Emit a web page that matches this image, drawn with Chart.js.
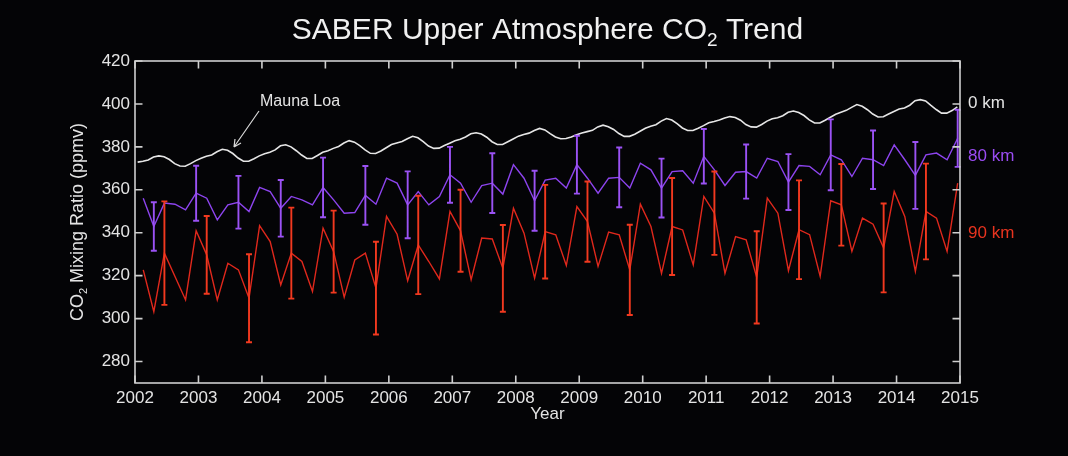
<!DOCTYPE html>
<html>
<head>
<meta charset="utf-8">
<title>SABER Upper Atmosphere CO2 Trend</title>
<script src="https://cdn.jsdelivr.net/npm/chart.js@4.4.1/dist/chart.umd.min.js"></script>
<style>
    html, body { margin: 0; padding: 0; background: #040406; }
    #wrap { width: 1068px; height: 456px; }
</style>
</head>
<body>
<div id="wrap"><canvas id="co2Chart" width="1068" height="456"></canvas></div>
<script>
(function () {
    'use strict';

    // ── Axis ticks ──────────────────────────────────────────
    const yearTicks = [2002, 2003, 2004, 2005, 2006, 2007, 2008, 2009, 2010, 2011, 2012, 2013, 2014, 2015];
    const ppmTicks  = [280, 300, 320, 340, 360, 380, 400, 420];

    // ── Mauna Loa monthly means (0 km), Jan..Dec per year ───
    const mloYears = [2002, 2003, 2004, 2005, 2006, 2007, 2008, 2009, 2010, 2011, 2012, 2013, 2014];
    const mloPpm = [
        372.9, 373.3, 373.9, 375.3, 375.8, 375.4, 374.1, 372.2, 371.1, 371.0, 372.2, 373.6,
        374.7, 375.6, 376.2, 377.7, 378.9, 378.4, 376.9, 374.8, 373.3, 373.3, 374.5, 375.8,
        376.8, 377.5, 378.6, 380.5, 381.0, 380.0, 378.2, 376.2, 374.6, 374.6, 376.0, 377.5,
        378.2, 379.3, 380.2, 381.8, 382.9, 382.2, 380.6, 378.6, 377.0, 376.9, 378.1, 379.6,
        381.1, 381.8, 382.5, 383.8, 384.9, 384.2, 382.4, 380.4, 379.3, 379.4, 380.6, 381.7,
        382.8, 383.6, 384.6, 386.1, 386.6, 386.0, 384.5, 382.4, 381.1, 381.1, 382.4, 383.7,
        385.0, 385.8, 386.4, 387.6, 388.6, 387.9, 386.2, 384.6, 383.8, 383.9, 384.6, 385.6,
        386.5, 387.1, 387.7, 389.3, 390.1, 389.4, 388.1, 386.2, 384.9, 384.9, 385.9, 387.3,
        388.7, 389.6, 390.3, 392.0, 393.2, 392.5, 390.8, 388.8, 387.6, 387.6, 388.7, 389.9,
        391.2, 391.8, 392.5, 393.4, 394.1, 393.7, 392.4, 390.4, 389.3, 389.2, 390.4, 392.0,
        393.1, 393.6, 394.5, 396.1, 396.7, 396.0, 394.6, 392.6, 391.1, 391.1, 392.4, 393.8,
        395.2, 396.1, 397.0, 398.4, 399.7, 398.9, 397.3, 395.3, 393.9, 394.0, 395.3, 396.5,
        397.6, 398.1, 399.4, 401.5, 402.0, 401.4, 399.3, 397.4, 395.7, 395.7, 396.9, 398.6
    ];

    // ── SABER 60-day samples (80 km and 90 km) ──────────────
    const satStart = 2002.13;   // first sample, decimal year
    const satStep  = 1 / 6;     // one sample every two months

    const ppm80 = [
        356.1, 342.9, 353.8, 353.3, 350.7, 358.4, 356.1, 346.0, 353.0, 354.2,
        349.9, 361.1, 359.2, 351.4, 356.9, 355.3, 353.0, 361.1, 355.3, 349.1,
        349.4, 357.4, 353.3, 365.4, 363.1, 353.0, 359.2, 353.0, 356.9, 367.0,
        363.1, 354.2, 362.0, 363.1, 358.0, 371.7, 365.4, 354.9, 364.5, 365.4,
        360.8, 371.7, 365.4, 358.4, 365.4, 365.8, 360.8, 372.4, 369.3, 360.8,
        368.5, 368.9, 363.1, 375.6, 369.3, 362.0, 368.2, 368.5, 365.5, 374.7,
        373.2, 363.6, 371.3, 370.9, 367.0, 376.3, 374.0, 366.2, 374.7, 374.0,
        371.3, 380.9, 374.0, 366.7, 376.3, 377.1, 374.0, 384.0
    ];
    const ppm90 = [
        322.7, 303.2, 330.5, 319.6, 308.7, 340.9, 329.7, 308.7, 325.8, 322.7,
        309.5, 343.3, 335.9, 315.7, 330.5, 326.6, 312.6, 342.1, 331.2, 310.0,
        327.3, 330.5, 314.2, 347.6, 339.3, 317.6, 334.3, 326.6, 318.5, 349.9,
        340.9, 318.1, 337.5, 337.1, 323.4, 351.4, 339.8, 318.8, 340.5, 339.0,
        324.7, 352.2, 345.2, 324.3, 340.3, 339.0, 322.7, 353.3, 342.9, 321.1,
        342.9, 341.3, 325.0, 356.9, 349.1, 321.1, 338.2, 336.7, 319.2, 356.1,
        349.1, 322.3, 341.4, 339.1, 319.7, 354.9, 353.0, 331.3, 346.8, 344.0,
        332.9, 359.2, 347.6, 322.0, 349.9, 346.8, 331.3, 363.1
    ];

    // Error bar half-widths, one bar every 4th sample
    const barEvery  = 4;
    const err80First = 1;
    const err80 = [11.3, 12.8, 12.3, 13.2, 13.9, 13.7, 15.6, 13.0, 13.9, 14.0,
                   13.5, 13.9, 13.7, 12.7, 12.6, 13.0, 16.5, 13.6, 15.6, 13.3];
    const err90First = 2;
    const err90 = [24.1, 18.1, 20.5, 21.2, 19.1, 21.6, 22.9, 19.1, 20.2, 21.8,
                   18.7, 21.0, 22.6, 19.4, 21.5, 23.0, 19.0, 20.7, 22.3];

    // ── Colours / fonts ─────────────────────────────────────
    const FONT     = "'Liberation Sans', Arial, Helvetica, sans-serif";
    const C_TEXT   = '#e4e4e4';
    const C_AXIS   = '#cfcfcf';
    const C_MLO    = '#e6e6e6';
    const C_80     = '#8d44ee';
    const C_80_BAR = '#9b52f4';
    const C_90     = '#e0281c';
    const C_90_BAR = '#f2391f';

    // ── Build point lists ───────────────────────────────────
    const satTime = i => satStart + i * satStep;

    const mloPoints = [];
    mloYears.forEach((yr, k) => {
        for (let m = 0; m < 12; m++) {
            mloPoints.push({ x: yr + (m + 0.5) / 12, y: mloPpm[k * 12 + m] });
        }
    });
    const pts80 = ppm80.map((v, i) => ({ x: satTime(i), y: v }));
    const pts90 = ppm90.map((v, i) => ({ x: satTime(i), y: v }));

    const barSets = [
        { vals: ppm80, err: err80, first: err80First, color: C_80_BAR },
        { vals: ppm90, err: err90, first: err90First, color: C_90_BAR }
    ];

    // ── Text helper: runs of [text, isSubscript] ────────────
    function drawRuns(ctx, runs, x, y, size, align) {
        const subSize = Math.round(size * 0.62);
        const widths = runs.map(r => {
            ctx.font = (r[1] ? subSize : size) + 'px ' + FONT;
            return ctx.measureText(r[0]).width;
        });
        const total = widths.reduce((a, b) => a + b, 0);
        let cx = align === 'center' ? x - total / 2 : (align === 'right' ? x - total : x);
        ctx.textAlign = 'left';
        ctx.textBaseline = 'alphabetic';
        runs.forEach((r, k) => {
            ctx.font = (r[1] ? subSize : size) + 'px ' + FONT;
            ctx.fillText(r[0], cx, r[1] ? y + size * 0.22 : y);
            cx += widths[k];
        });
    }

    // ── Plugin: frame + inward ticks ────────────────────────
    const frame = {
        id: 'frame',
        afterDraw(chart) {
            const { ctx, chartArea: a, scales: { x, y } } = chart;
            const tl = 7.5;
            ctx.save();
            ctx.strokeStyle = C_AXIS;
            ctx.lineWidth = 1.6;
            ctx.strokeRect(a.left, a.top, a.right - a.left, a.bottom - a.top);
            ctx.beginPath();
            yearTicks.forEach(v => {
                const px = x.getPixelForValue(v);
                ctx.moveTo(px, a.bottom); ctx.lineTo(px, a.bottom - tl);
                ctx.moveTo(px, a.top);    ctx.lineTo(px, a.top + tl);
            });
            ppmTicks.forEach(v => {
                const py = y.getPixelForValue(v);
                ctx.moveTo(a.left, py);  ctx.lineTo(a.left + tl, py);
                ctx.moveTo(a.right, py); ctx.lineTo(a.right - tl, py);
            });
            ctx.stroke();
            ctx.restore();
        }
    };

    // ── Plugin: error bars ──────────────────────────────────
    const errorBars = {
        id: 'errorBars',
        afterDatasetsDraw(chart) {
            const { ctx, scales: { x, y } } = chart;
            const cap = 3;
            ctx.save();
            ctx.lineWidth = 1.9;
            barSets.forEach(b => {
                ctx.strokeStyle = b.color;
                ctx.beginPath();
                b.err.forEach((e, k) => {
                    const i   = b.first + k * barEvery;
                    const px  = x.getPixelForValue(satTime(i));
                    const top = y.getPixelForValue(b.vals[i] + e);
                    const bot = y.getPixelForValue(b.vals[i] - e);
                    ctx.moveTo(px, top); ctx.lineTo(px, bot);
                    ctx.moveTo(px - cap, top); ctx.lineTo(px + cap, top);
                    ctx.moveTo(px - cap, bot); ctx.lineTo(px + cap, bot);
                });
                ctx.stroke();
            });
            ctx.restore();
        }
    };

    // ── Plugin: titles, labels, annotation ──────────────────
    const labels = {
        id: 'labels',
        afterDraw(chart) {
            const { ctx, chartArea: a } = chart;
            const midX = (a.left + a.right) / 2;
            ctx.save();
            ctx.fillStyle = '#f0f0f0';
            drawRuns(ctx, [['SABER Upper Atmosphere CO', false], ['2', true], [' Trend', false]],
                     midX, 39, 30, 'center');

            ctx.fillStyle = C_TEXT;
            ctx.font = '17px ' + FONT;
            ctx.textAlign = 'center';
            ctx.textBaseline = 'middle';
            ctx.fillText('Year', midX, 414);

            ctx.save();
            ctx.translate(83, (a.top + a.bottom) / 2);
            ctx.rotate(-Math.PI / 2);
            drawRuns(ctx, [['CO', false], ['2', true], [' Mixing Ratio (ppmv)', false]], 0, 0, 18, 'center');
            ctx.restore();

            ctx.font = '17px ' + FONT;
            ctx.textAlign = 'left';
            ctx.textBaseline = 'middle';
            ctx.fillStyle = C_TEXT;  ctx.fillText('0 km', a.right + 8, 103);
            ctx.fillStyle = '#9a4cf2'; ctx.fillText('80 km', a.right + 8, 156);
            ctx.fillStyle = '#e8341f'; ctx.fillText('90 km', a.right + 8, 233);

            // Mauna Loa pointer
            ctx.fillStyle = C_TEXT;
            ctx.font = '16px ' + FONT;
            ctx.fillText('Mauna Loa', 260, 102);
            ctx.strokeStyle = '#d8d8d8';
            ctx.lineWidth = 1.2;
            ctx.beginPath();
            ctx.moveTo(259, 111); ctx.lineTo(234, 147);
            ctx.moveTo(234, 147); ctx.lineTo(235, 139);
            ctx.moveTo(234, 147); ctx.lineTo(241, 143);
            ctx.stroke();
            ctx.restore();
        }
    };

    const ctx = document.getElementById('co2Chart');

    window.co2Chart = new Chart(ctx, {
        type: 'line',
        data: {
            datasets: [
                {
                    label:       '0 km',
                    data:        mloPoints,
                    borderColor: C_MLO,
                    borderWidth: 1.6,
                    pointRadius: 0,
                    tension:     0,
                    order:       3,
                },
                {
                    label:       '80 km',
                    data:        pts80,
                    borderColor: C_80,
                    borderWidth: 1.4,
                    pointRadius: 0,
                    tension:     0,
                    order:       2,
                },
                {
                    label:       '90 km',
                    data:        pts90,
                    borderColor: C_90,
                    borderWidth: 1.4,
                    pointRadius: 0,
                    tension:     0,
                    order:       1,
                }
            ]
        },
        options: {
            responsive: false,
            animation:  false,
            layout: { padding: { top: 61, left: 0, right: 0, bottom: 0 } },
            plugins: {
                legend:  { display: false },
                tooltip: { enabled: false },
            },
            scales: {
                x: {
                    type: 'linear',
                    min: 2002,
                    max: 2015,
                    grid:   { display: false, drawTicks: false },
                    border: { display: false },
                    afterBuildTicks: s => { s.ticks = yearTicks.map(v => ({ value: v })); },
                    afterFit: s => { s.height = 73; },
                    ticks: {
                        color: C_TEXT,
                        font: { family: FONT, size: 17 },
                        padding: 5,
                        maxRotation: 0,
                        autoSkip: false,
                        callback: v => String(v),
                    }
                },
                y: {
                    position: 'left',
                    min: 270,
                    max: 420,
                    grid:   { display: false, drawTicks: false },
                    border: { display: false },
                    afterBuildTicks: s => { s.ticks = ppmTicks.map(v => ({ value: v })); },
                    afterFit: s => { s.width = 135; },
                    ticks: {
                        color: C_TEXT,
                        font: { family: FONT, size: 17 },
                        padding: 5,
                        callback: v => String(v),
                    }
                },
                yR: {
                    position: 'right',
                    min: 270,
                    max: 420,
                    grid:   { display: false, drawTicks: false },
                    border: { display: false },
                    afterFit: s => { s.width = 108; },
                    ticks:  { display: false }
                }
            }
        },
        plugins: [errorBars, frame, labels]
    });
})();
</script>
</body>
</html>
